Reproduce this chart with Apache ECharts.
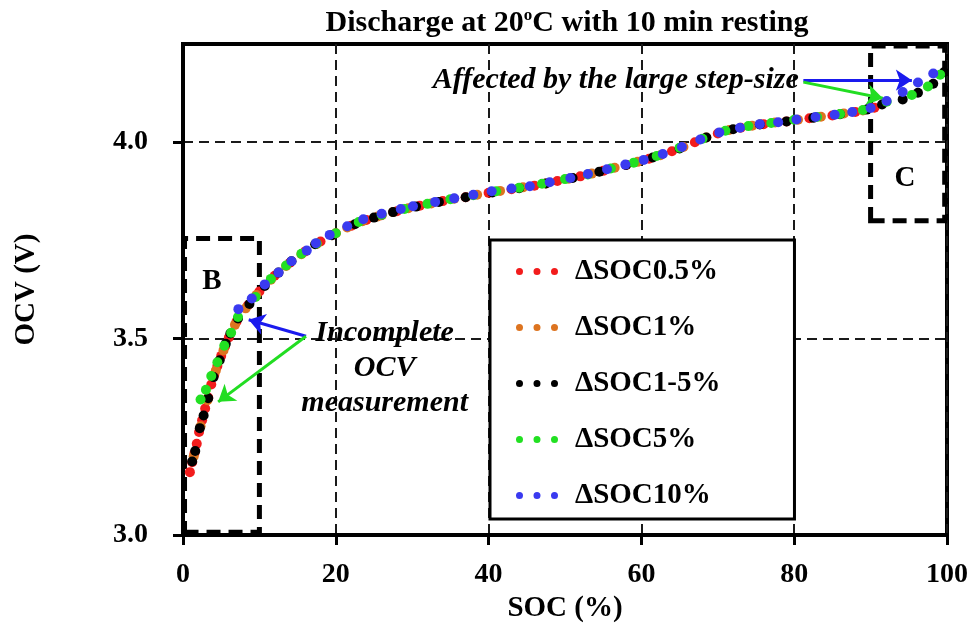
<!DOCTYPE html>
<html><head><meta charset="utf-8">
<script src="https://cdn.jsdelivr.net/npm/echarts@6/dist/echarts.min.js"></script>
<style>html,body{margin:0;padding:0;background:#fff}#c{width:974px;height:640px}</style>
</head><body><div id="c"></div>
<script>
// ---- data ----
const seriesNames = ['\u0394SOC0.5%', '\u0394SOC1%', '\u0394SOC1-5%', '\u0394SOC5%', '\u0394SOC10%'];
const seriesColors = ['#f21c1c', '#dd7420', '#000000', '#22e022', '#3a3af0'];

const socRed = [0.9,1.2,1.5,1.8,2.1,2.5,2.9,3.3,3.7,4.1,4.5,5.0,5.5,6.0,7.0,8.5,10,12,14,16,18,20,22,24,26,28,31,34,37,40,43,46,49,52,55,58,61,64,67,70,73,76,79,82,85,88,90.5];
const ocvRed = [3.160,3.185,3.208,3.232,3.262,3.292,3.322,3.350,3.383,3.408,3.430,3.456,3.480,3.503,3.543,3.585,3.620,3.660,3.693,3.722,3.747,3.768,3.787,3.802,3.814,3.824,3.838,3.850,3.860,3.871,3.880,3.889,3.901,3.913,3.927,3.942,3.958,3.977,4.000,4.022,4.037,4.046,4.053,4.061,4.068,4.077,4.088];

const socOrange = [1.4,2.3,3.2,4.3,5.3,6.8,8.2,9.6,11.5,13.5,15.5,17.5,19.5,21.5,23.5,25.5,27.5,29.5,32.5,35.5,38.5,41.5,44.5,47.5,50.5,53.5,56.5,59.5,62.5,65.5,68.5,71.5,74.5,77.5,80.5,83.5,86.5,89];
const ocvOrange = [3.200,3.277,3.343,3.419,3.470,3.535,3.577,3.611,3.650,3.685,3.715,3.741,3.763,3.783,3.799,3.811,3.822,3.832,3.844,3.856,3.866,3.876,3.885,3.895,3.907,3.920,3.935,3.950,3.967,3.988,4.012,4.031,4.042,4.050,4.057,4.065,4.073,4.081];

const socBlack = [1.2,1.6,2.2,2.7,3.3,4.0,4.8,5.6,6.2,7.2,8.7,10.7,12.5,14.2,17.3,19.5,22.5,25,27.5,30.5,33.5,37,40.5,44,47.5,51,54.5,58,61.5,65,68.5,72,75.5,79,82.5,86,89.5,91.5,94.2,96.2,98.2,99.6];
const ocvBlack = [3.187,3.214,3.272,3.304,3.348,3.402,3.445,3.487,3.513,3.551,3.588,3.634,3.668,3.697,3.740,3.763,3.791,3.808,3.822,3.836,3.848,3.860,3.872,3.883,3.895,3.909,3.925,3.942,3.961,3.984,4.012,4.033,4.045,4.053,4.062,4.071,4.083,4.096,4.109,4.126,4.149,4.178];

const socGreen = [2.3,3.0,3.7,4.5,5.4,6.3,7.2,9.5,11.5,13.5,15.5,17.5,20,23,26,29,32,35,38,41,44,47,50,53,56,59,62,65,68,71,74,77,80,83,86,89,92.1,95.4,97.5,99.1];
const ocvGreen = [3.345,3.370,3.405,3.440,3.482,3.515,3.555,3.606,3.652,3.686,3.716,3.742,3.768,3.797,3.815,3.830,3.843,3.855,3.865,3.875,3.884,3.894,3.906,3.918,3.933,3.948,3.965,3.986,4.009,4.029,4.041,4.049,4.057,4.064,4.072,4.082,4.103,4.120,4.142,4.172];

const socBlue = [7.25,9.0,10.7,12.5,14.2,16.2,17.4,19.2,21.5,23.6,26,28.5,30.1,33,35.5,38,40.4,43,45.4,48,50.7,53,55.5,57.9,60.3,62.8,65.3,67.7,70.2,72.9,75.5,77.9,80.3,82.8,85.3,87.6,90,92.1,94.2,96.2,98.2];
const ocvBlue = [3.575,3.602,3.638,3.668,3.697,3.724,3.743,3.764,3.786,3.804,3.818,3.830,3.837,3.848,3.857,3.866,3.875,3.882,3.888,3.898,3.909,3.919,3.931,3.943,3.955,3.970,3.988,4.007,4.025,4.037,4.046,4.051,4.058,4.064,4.070,4.077,4.087,4.105,4.128,4.152,4.175];

const xTicks = [0, 20, 40, 60, 80, 100];
const yTickLabels = [3.0, 3.5, 4.0];

const allSoc = [socRed, socOrange, socBlack, socGreen, socBlue];
const allOcv = [ocvRed, ocvOrange, ocvBlack, ocvGreen, ocvBlue];

// ---- chart ----
const FONT = '"Liberation Serif","Times New Roman",serif';
const chart = echarts.init(document.getElementById('c'), null, {renderer: 'canvas'});
const dotsIcon = 'path://M0,3.5A3.5,3.5 0 1,1 7,3.5A3.5,3.5 0 1,1 0,3.5ZM17.5,3.5A3.5,3.5 0 1,1 24.5,3.5A3.5,3.5 0 1,1 17.5,3.5ZM35,3.5A3.5,3.5 0 1,1 42,3.5A3.5,3.5 0 1,1 35,3.5Z';

const series = seriesNames.map((name, k) => ({
  name: name,
  type: 'scatter',
  symbol: 'circle',
  symbolSize: 10,
  itemStyle: {color: seriesColors[k], opacity: 1},
  data: allSoc[k].map((s, i) => [s, allOcv[k][i]]),
  z: 3 + k
}));

const BLUE = '#1a1aee', GREEN = '#22dd22';
// annotation layer
series.push({
  type: 'scatter', data: [], silent: true, z: 20,
  markLine: {
    silent: true, animation: false,
    symbol: ['none', 'arrow'], symbolSize: 16,
    label: {show: false},
    lineStyle: {width: 3, type: 'solid'},
    data: [
      [{coord: [16.1, 3.506], lineStyle: {color: BLUE, width: 3, type: 'solid'}}, {coord: [8.6, 3.548]}],
      [{coord: [16.1, 3.506], lineStyle: {color: GREEN, width: 3, type: 'solid'}}, {coord: [4.6, 3.339]}],
      [{coord: [81.2, 4.158], lineStyle: {color: BLUE, width: 3, type: 'solid'}}, {coord: [95.4, 4.158]}],
      [{coord: [81.2, 4.153], lineStyle: {color: GREEN, width: 3, type: 'solid'}}, {coord: [91.6, 4.112]}]
    ]
  },
  markArea: {
    silent: true,
    itemStyle: {color: 'rgba(0,0,0,0)', borderColor: '#000', borderWidth: 5, borderType: [14, 8]},
    data: [
      [{coord: [0.2, 3.007]}, {coord: [10, 3.755]}],
      [{coord: [90, 3.8]}, {coord: [99.7, 4.245]}]
    ]
  }
});

chart.setOption({
  animation: false,
  backgroundColor: '#fff',
  title: {
    text: '{a|Discharge at 20}{s|o}{a|C with 10 min resting}',
    left: 562, top: 1, textAlign: 'center',
    textStyle: {
      rich: {
        a: {fontFamily: FONT, fontWeight: 'bold', fontSize: 30, color: '#000', lineHeight: 34},
        s: {fontFamily: FONT, fontWeight: 'bold', fontSize: 17, color: '#000', lineHeight: 34, padding: [0, 0, 15, 0]}
      }
    }
  },
  grid: {left: 183, right: 27, top: 44, bottom: 105, show: true, borderColor: '#000', borderWidth: 4, backgroundColor: 'transparent'},
  legend: {
    orient: 'vertical', left: 490, top: 240,
    data: seriesNames,
    icon: dotsIcon, itemWidth: 42, itemHeight: 7,
    itemGap: 25,
    padding: [16, 74, 8, 26],
    backgroundColor: '#fff', borderColor: '#000', borderWidth: 3,
    textStyle: {fontFamily: FONT, fontWeight: 'bold', fontSize: 29, color: '#000', lineHeight: 31, padding: [0, 0, 0, 12]},
    selectedMode: false, z: 10
  },
  xAxis: {
    type: 'value', min: 0, max: 100, interval: 20,
    name: 'SOC (%)', nameLocation: 'middle', nameGap: 56,
    nameTextStyle: {fontFamily: FONT, fontWeight: 'bold', fontSize: 29, color: '#000'},
    axisLine: {show: true, lineStyle: {color: '#000', width: 4}},
    axisTick: {show: true, inside: false, length: 10, lineStyle: {color: '#000', width: 3}, customValues: xTicks},
    axisLabel: {fontFamily: FONT, fontWeight: 'bold', fontSize: 28, color: '#000', margin: 26, customValues: xTicks},
    splitLine: {show: true, lineStyle: {color: '#1a1a1a', width: 2, type: [10, 6]}}
  },
  yAxis: {
    type: 'value', min: 3.0, max: 4.25, interval: 0.25,
    name: 'OCV (V)', nameLocation: 'middle', nameGap: 142, nameRotate: 90,
    nameTextStyle: {fontFamily: FONT, fontWeight: 'bold', fontSize: 29, color: '#000'},
    axisLine: {show: true, lineStyle: {color: '#000', width: 4}},
    axisTick: {show: true, inside: false, length: 10, lineStyle: {color: '#000', width: 3}, customValues: yTickLabels},
    axisLabel: {fontFamily: FONT, fontWeight: 'bold', fontSize: 28, color: '#000', margin: 35,
      customValues: yTickLabels, formatter: v => v.toFixed(1)},
    splitLine: {show: true, lineStyle: {color: '#1a1a1a', width: 2, type: [10, 6]}}
  },
  series: series
});

// text annotations positioned from data coordinates
function px(p) { return chart.convertToPixel({gridIndex: 0}, p); }
const pB = px([3.8, 3.646]), pC = px([94.5, 3.908]);
const pInc = px([26.4, 3.425]), pAff = px([80.6, 4.158]);
const boldSerif = {fontFamily: FONT, fontWeight: 'bold', fill: '#000'};
chart.setOption({
  graphic: [
    {type: 'text', x: pB[0], y: pB[1], z: 30, style: Object.assign({text: 'B', fontSize: 29, align: 'center', verticalAlign: 'middle'}, boldSerif)},
    {type: 'text', x: pC[0], y: pC[1], z: 30, style: Object.assign({text: 'C', fontSize: 29, align: 'center', verticalAlign: 'middle'}, boldSerif)},
    {type: 'text', x: pInc[0], y: pInc[1], z: 30, style: Object.assign({text: 'Incomplete\nOCV\nmeasurement', fontSize: 30, fontStyle: 'italic', lineHeight: 35, align: 'center', verticalAlign: 'middle'}, boldSerif)},
    {type: 'text', x: pAff[0], y: pAff[1], z: 30, style: Object.assign({text: 'Affected by the large step-size', fontSize: 30, fontStyle: 'italic', align: 'right', verticalAlign: 'middle'}, boldSerif)}
  ]
});
</script>
</body></html>
